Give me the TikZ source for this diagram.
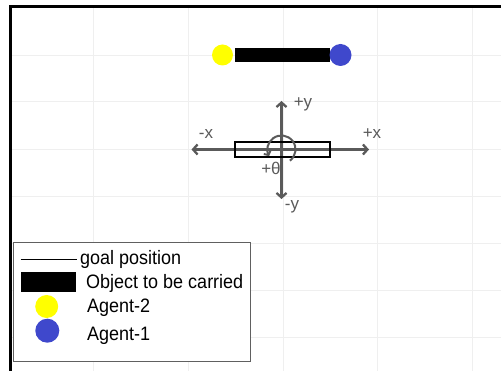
\documentclass[tikz,border=0pt]{standalone}
\usepackage{fontspec}
\setmainfont{Liberation Sans}
\usetikzlibrary{arrows.meta}
\definecolor{agentyellow}{HTML}{FFFF00}
\definecolor{agentblue}{HTML}{3F48CC}
\definecolor{axisgray}{HTML}{5A5A5A}
\definecolor{gridgray}{HTML}{EFEFEF}
\definecolor{legendgray}{HTML}{606060}
\tikzset{
  gridline/.style={draw=gridgray, line width=0.8pt},
  axisline/.style={draw=axisgray, line width=2.3pt, {Straight Barb[length=4.5pt,width=10pt]}-{Straight Barb[length=4.5pt,width=10pt]}},
  axislabel/.style={text=axisgray, font=\fontsize{17}{17}\selectfont, inner sep=0pt},
  agent/.style={circle, inner sep=0pt},
  legendtext/.style={anchor=west, font=\fontsize{18}{18}\selectfont, inner sep=0pt, yscale=1.08},
}
\begin{document}
\begin{tikzpicture}[x=1pt,y=-1pt]
\useasboundingbox (0,0) rectangle (501,371);
\fill[white] (0,0) rectangle (501,371);
% grid
\foreach \x in {93,188,283,377,472} \draw[gridline] (\x,8) -- (\x,371);
\foreach \y in {55,101.5,149,196.5,243,290,337} \draw[gridline] (12,\y) -- (501,\y);
% frame
\draw[line width=3pt] (10.5,371) -- (10.5,6.5) -- (501,6.5);
% object with agents
\node[fill=black, minimum width=95pt, minimum height=14.5pt, inner sep=0pt] (obj) at (282.5,55) {};
\node[agent, fill=agentyellow, minimum size=21pt] (ag2) at (222.5,55) {};
\node[agent, fill=agentblue, minimum size=22pt] (ag1) at (340.5,55) {};
% axes
\coordinate (o) at (281.5,149.5);
\coordinate (xl) at (191.5,149.5);
\coordinate (xr) at (369,149.5);
\coordinate (yt) at (281.5,101);
\coordinate (yb) at (281.5,199);
\draw[axisline] (xl) -- (xr);
\draw[axisline] (yb) -- (yt);
% goal position
\node[draw=black, line width=1.9pt, minimum width=95pt, minimum height=15pt, inner sep=0pt] (goal) at (282.5,149.2) {};
% rotation arrow
\draw[draw=axisgray, line width=2pt, -{Straight Barb[length=3pt,width=7.5pt]}] ([shift={(53:14)}]o) arc[start angle=53, end angle=-208, radius=14];
% labels
\node[axislabel] (py) at (303,104) {+y};
\node[axislabel] (my) at (292,207) {-y};
\node[axislabel] (mx) at (206,134) {-x};
\node[axislabel] (px) at (372,134) {+x};
\node[axislabel] (pt) at (271,168) {+θ};
% legend
\node[draw=legendgray, line width=1pt, fill=white, minimum width=237pt, minimum height=119pt, inner sep=0pt] (legend) at (131.5,302.2) {};
\coordinate (l1a) at (20.7,259.5);
\coordinate (l1b) at (77.3,259.5);
\draw[line width=1.8pt] (l1a) -- (l1b);
\node[legendtext] (t1) at (80,259.5) {goal position};
\node[fill=black, minimum width=55.5pt, minimum height=20pt, inner sep=0pt] (lobj) at (48.3,281.7) {};
\node[legendtext] (t2) at (86,283) {Object to be carried};
\node[agent, fill=agentyellow, minimum size=23pt] (lag2) at (46.7,306.5) {};
\node[legendtext] (t3) at (87,308) {Agent-2};
\node[agent, fill=agentblue, minimum size=24pt] (lag1) at (47.3,330.7) {};
\node[legendtext] (t4) at (87,336) {Agent-1};
\end{tikzpicture}
\end{document}
